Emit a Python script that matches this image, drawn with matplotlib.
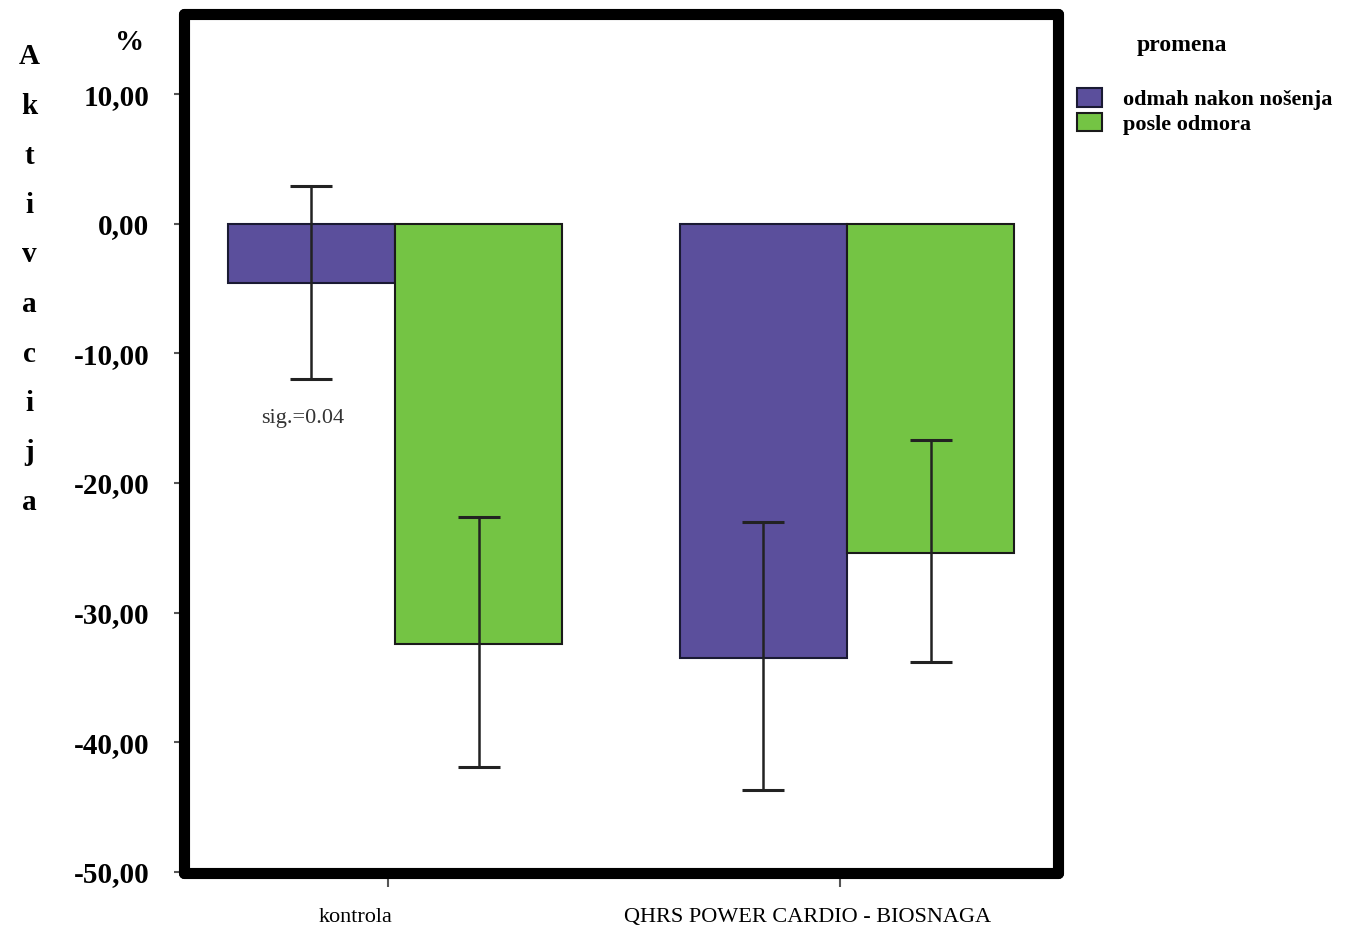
import numpy as np
import matplotlib.pyplot as plt
import matplotlib.transforms as mtransforms

groups = ['kontrola', 'QHRS POWER CARDIO - BIOSNAGA']
series = ['odmah nakon nošenja', 'posle odmora']
odmah = [-4.6, -33.5]
odmah_lo = [-12.0, -43.7]
odmah_hi = [2.9, -23.0]
posle = [-32.4, -25.4]
posle_lo = [-41.9, -33.8]
posle_hi = [-22.6, -16.7]
yticks = [10, 0, -10, -20, -30, -40, -50]
ylabels = ['10,00', '0,00', '-10,00', '-20,00', '-30,00', '-40,00', '-50,00']

purple = '#5b4f9c'
green = '#74c444'
serif = ['Liberation Serif', 'DejaVu Serif']

fig = plt.figure(figsize=(13.56, 9.32), dpi=100)
ax = fig.add_axes([184/1356, 59/932, 874/1356, 859/932])

x = np.arange(len(groups))
w = 0.37
off = 0.185

b1 = ax.bar(x - off, odmah, w, color=purple, edgecolor='#1a1a33', linewidth=1.5, label=series[0])
b2 = ax.bar(x + off, posle, w, color=green, edgecolor='#1a1a1a', linewidth=1.5, label=series[1])

err1 = [np.array(odmah) - np.array(odmah_lo), np.array(odmah_hi) - np.array(odmah)]
err2 = [np.array(posle) - np.array(posle_lo), np.array(posle_hi) - np.array(posle)]
ax.errorbar(x - off, odmah, yerr=err1, fmt='none', ecolor='#222222', elinewidth=1.8, capsize=15, capthick=2.2)
ax.errorbar(x + off, posle, yerr=err2, fmt='none', ecolor='#222222', elinewidth=1.8, capsize=15, capthick=2.2)

ax.text(-0.205, -15.0, 'sig.=0.04', ha='center', va='center', fontsize=16,
        family=serif, color='#333333')

ax.set_xlim(-0.467, 1.467)
ax.set_ylim(-50.1, 16.2)
ax.set_yticks(yticks)
ax.set_yticklabels(ylabels, family=serif, fontweight='bold', fontsize=21)
ax.set_xticks(x - 0.015)
ax.set_xticklabels(groups, family=serif, fontsize=16)
ax.tick_params(axis='y', length=7, width=1.5, color='#555555', pad=18)
ax.tick_params(axis='x', length=10, width=1.5, color='#555555', pad=15)

# labels sit a bit left of their ticks in the original
shift = mtransforms.ScaledTranslation(-0.33, 0, fig.dpi_scale_trans)
for lab in ax.get_xticklabels():
    lab.set_transform(lab.get_transform() + shift)

for s in ax.spines.values():
    s.set_linewidth(8)
    s.set_color('black')
    s.set_capstyle('round')
    s.set_joinstyle('round')

fig.text(130/1356, 1 - 43/932, '%', family=serif, fontweight='bold', fontsize=21,
         ha='center', va='center')

letters = list('Aktivacija')
for i, ch in enumerate(letters):
    fig.text(29/1356, 1 - (57 + i*49.5)/932, ch, family=serif, fontweight='bold',
             fontsize=21, ha='center', va='center')

fig.text(1182/1356, 1 - 45/932, 'promena', family=serif, fontweight='bold',
         fontsize=17, ha='center', va='center')

fig.legend(handles=[b1, b2], labels=series,
           loc='upper left', bbox_to_anchor=(1066/1356, 1 - 77/932),
           frameon=False, borderpad=0, handlelength=1.1, handleheight=0.9,
           handletextpad=0.95, labelspacing=0.12,
           prop={'family': serif, 'weight': 'bold', 'size': 16})

fig.savefig('out.png', dpi=100, facecolor='white')
